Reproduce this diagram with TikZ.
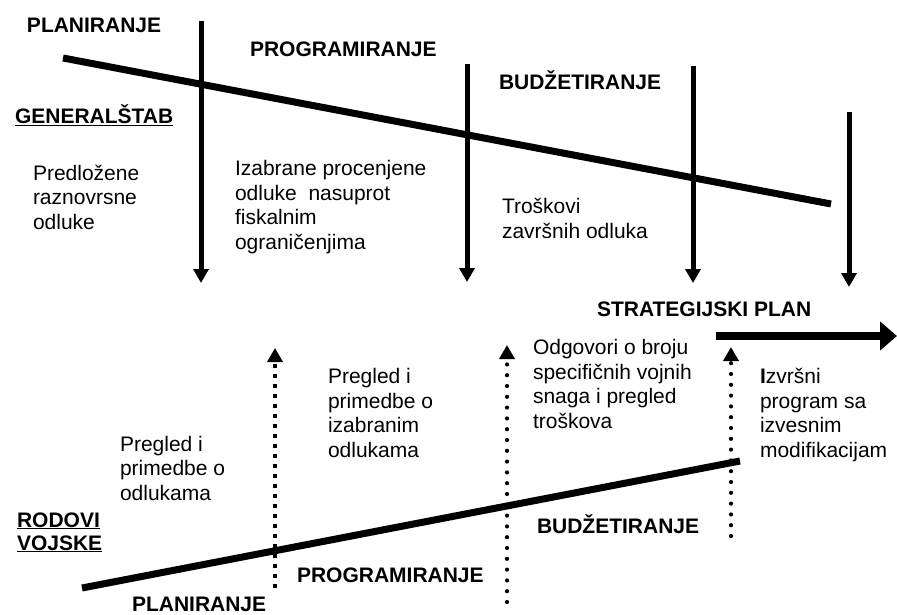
\documentclass[tikz,border=0pt]{standalone}
\usepackage{fontspec}
\setmainfont{Liberation Sans}
\usetikzlibrary{arrows.meta}
\begin{document}
\begin{tikzpicture}[x=1pt,y=-1pt,
  every node/.style={inner sep=0pt, outer sep=0pt, anchor=base west, align=left,
    font=\fontsize{21}{24.5}\selectfont},
  lbl/.style={font=\fontsize{21}{24.5}\selectfont\bfseries},
  phaseline/.style={line width=7pt},
  downarrow/.style={line width=5pt, -{Triangle[width=15pt,length=14pt]}},
  sqdots/.style={line width=4pt, dash pattern=on 4pt off 6pt, -{Triangle[width=15pt,length=14pt]}},
  rdots/.style={line width=4.2pt, line cap=round, dash pattern=on 0pt off 10.8pt, -{Triangle[width=15pt,length=14pt]}},
  planarrow/.style={line width=8pt, -{Triangle[width=28pt,length=17pt]}},
]
\useasboundingbox (0,0) rectangle (897,615);

% ---- top (Generalštab) ----
\coordinate (tl1) at (63,58);
\coordinate (tl2) at (831,204);
\draw[phaseline] (tl1) -- (tl2);

\coordinate (a1s) at (201,21);  \coordinate (a1e) at (201,283);
\coordinate (a2s) at (467,64);  \coordinate (a2e) at (467,282);
\coordinate (a3s) at (693,66);  \coordinate (a3e) at (693,283);
\coordinate (a4s) at (849,112); \coordinate (a4e) at (849,287);
\draw[downarrow] (a1s) -- (a1e);
\draw[downarrow] (a2s) -- (a2e);
\draw[downarrow] (a3s) -- (a3e);
\draw[downarrow] (a4s) -- (a4e);

\node[lbl] (plan1) at (27,33) {PLANIRANJE};
\node[lbl] (prog1) at (250,57) {PROGRAMIRANJE};
\node[lbl] (budz1) at (499,90) {BUDŽETIRANJE};
\node[lbl] (gs) at (15,124) {\underline{GENERALŠTAB}};

% multi-line nodes: base anchor = baseline of last line
\node (t1) at (33,229) {Predložene\\raznovrsne\\odluke};
\node (t2) at (235,249) {Izabrane procenjene\\odluke~~nasuprot\\fiskalnim\\ograničenjima};
\node (t3) at (502,238) {Troškovi\\završnih odluka};

% ---- bottom (Rodovi vojske) ----
\node[lbl] (sp) at (597,316) {STRATEGIJSKI PLAN};
\coordinate (ps) at (716,336);
\coordinate (pe) at (897,336);
\draw[planarrow] (ps) -- (pe);

\coordinate (bl1) at (82,588);
\coordinate (bl2) at (740,461);
\draw[phaseline] (bl1) -- (bl2);

\coordinate (d1s) at (275,588); \coordinate (d1e) at (275,348);
\coordinate (d2s) at (507,602); \coordinate (d2e) at (507,345);
\coordinate (d3s) at (731,536); \coordinate (d3e) at (731,347);
\draw[sqdots] (d1s) -- (d1e);
\draw[rdots] (d2s) -- (d2e);
\draw[rdots] (d3s) -- (d3e);

\node[lbl] (rv) at (17,550) {\underline{RODOVI}\\[-1.5pt]\underline{VOJSKE}};
\node (b1) at (120,500) {Pregled i\\primedbe o\\odlukama};
\node (b2) at (328,457) {Pregled i\\primedbe o\\izabranim\\odlukama};
\node (b3) at (533,428) {Odgovori o broju\\specifičnih vojnih\\snaga i pregled\\troškova};
\node (b4) at (760,457) {\textbf{I}zvršni\\program sa\\izvesnim\\modifikacijam};

\node[lbl] (budz2) at (537,533) {BUDŽETIRANJE};
\node[lbl] (prog2) at (297,582) {PROGRAMIRANJE};
\node[lbl] (plan2) at (132,611) {PLANIRANJE};
\end{tikzpicture}
\end{document}
